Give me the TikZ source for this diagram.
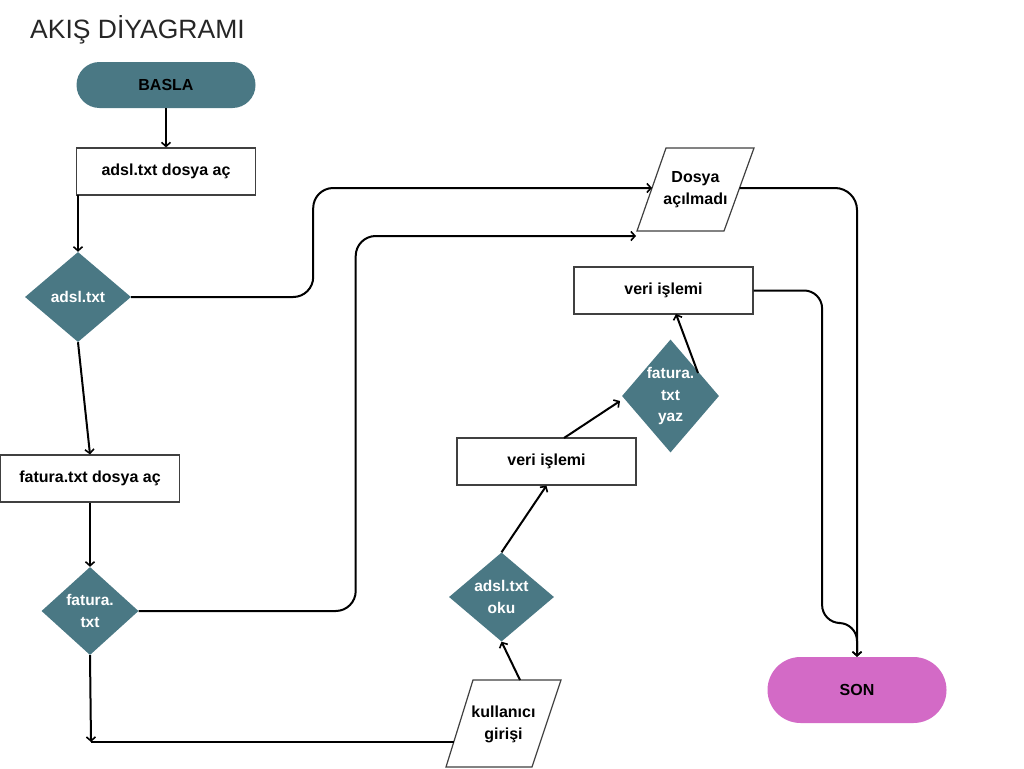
\documentclass[tikz,border=0pt]{standalone}
\usepackage{fontspec}
\setmainfont{Liberation Sans}
\usetikzlibrary{shapes.geometric,arrows.meta,calc}
\definecolor{tealbox}{RGB}{74,120,132}
\definecolor{pinkbox}{RGB}{211,106,198}
\begin{document}
\begin{tikzpicture}[x=1pt,y=-1pt,
  txt/.style={font=\bfseries\fontsize{16}{22}\selectfont, align=center},
  term/.style={txt, rectangle, rounded corners=#1, inner sep=0pt, minimum width=179pt},
  box/.style={txt, rectangle, draw=black!75, line width=1.2pt, fill=white, inner sep=0pt, minimum width=179pt, minimum height=47pt},
  dia/.style={diamond, fill=tealbox, inner sep=0pt},
  dtext/.style={txt, text=white, font=\bfseries\fontsize{15.5}{21.5}\selectfont},
  para/.style={draw=black!75, line width=1.2pt, fill=white, line join=miter},
  conn/.style={line width=2pt, -{Straight Barb[length=4pt,width=9pt,line width=1.6pt]}},
  plain/.style={line width=2pt}
]
\useasboundingbox (0,0) rectangle (1024,768);

% title
\node[anchor=base west, font=\fontsize{26.5}{30}\selectfont, text=black!85, inner sep=0pt] (title) at (30,38) {AKIŞ DİYAGRAMI};

% nodes
\node[term=23pt, fill=tealbox, minimum height=46pt] (basla) at (166,85) {BASLA};
\node[box] (r1) at (166,171.5) {adsl.txt dosya aç};
\node[dia, minimum width=106pt, minimum height=90pt] (d1) at (78,297) {};
\node[dtext] (d1t) at (d1) {adsl.txt};
\node[box] (f1) at (90,478.5) {fatura.txt dosya aç};
\node[dia, minimum width=97pt, minimum height=88pt] (fd) at (90,611) {};
\node[dtext] (fdt) at (fd) {fatura.\\txt};

% kullanici girisi parallelogram
\draw[para] (473,680) -- (561,680) -- (532,767) -- (446,767) -- cycle;
\node[txt] (kul) at (503.5,724.5) {kullanıcı\\girişi};

\node[dia, minimum width=105pt, minimum height=89pt] (ok) at (501.5,597) {};
\node[dtext] (okt) at (ok) {adsl.txt\\oku};
\node[box] (v1) at (546.5,461.5) {veri işlemi};
\node[dia, minimum width=97pt, minimum height=113pt] (fy) at (670.5,396) {};
\node[dtext] (fyt) at (fy) {fatura.\\txt\\yaz};
\node[box] (v2) at (663.5,290.5) {veri işlemi};

% Dosya acilmadi parallelogram
\draw[para] (666,148) -- (754,148) -- (724,231) -- (637,231) -- cycle;
\node[txt] (dos) at (695.5,189.5) {Dosya\\açılmadı};

\node[term=33pt, fill=pinkbox, minimum height=66pt] (son) at (857,690) {SON};

% connector coordinates
\coordinate (r1b) at (78,195);
\coordinate (dosL) at (652,188);
\coordinate (dosB) at (636,236);
\coordinate (dosR) at (739.5,188);
\coordinate (corner) at (91,742);
\coordinate (kulL) at (454,742);
\coordinate (kulT) at (520,680);
\coordinate (v1t) at (564,438);
\coordinate (fyin) at (620,401);
\coordinate (fyout) at (698,373);
\coordinate (v2b) at (676,314);

% connectors
\draw[conn] (basla.south) -- (r1.north);
\draw[conn] (r1b) -- (d1.north);
\draw[conn, rounded corners=20pt] (d1.east) -- ++(182,0) |- (dosL);
\draw[conn] (d1.south) -- (f1.north);
\draw[conn] (f1.south) -- (fd.north);
\draw[conn, rounded corners=20pt] (fd.east) -- ++(217,0) |- (dosB);
\draw[conn] (fd.south) -- (corner);
\draw[plain] (corner) -- (kulL);
\draw[conn] (kulT) -- (ok.south);
\draw[conn] (ok.north) -- (v1.south);
\draw[conn] (v1t) -- (fyin);
\draw[conn] (fyout) -- (v2b);
\draw[conn, rounded corners=18pt] (v2.east) -- ++(68.5,0) |- (857,623) -- (son.north);
\draw[conn, rounded corners=22pt] (dosR) -| (son.north);
\end{tikzpicture}
\end{document}
